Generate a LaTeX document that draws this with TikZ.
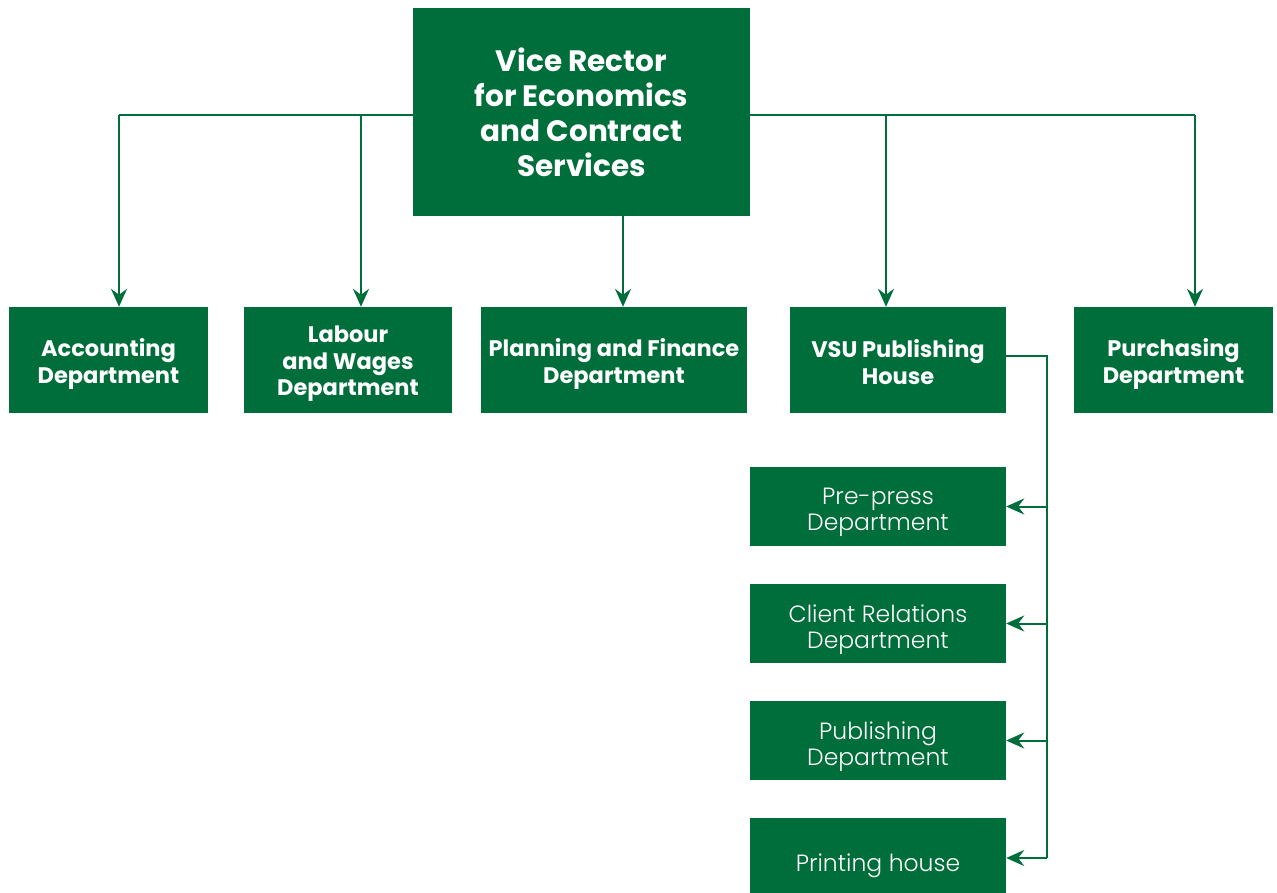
\documentclass[tikz,border=0pt]{standalone}
\usepackage{fontspec}
\setmainfont{Poppins}
\newfontfamily\lightfont{Poppins Light}
\usetikzlibrary{arrows.meta}
\definecolor{vgreen}{RGB}{0,110,58}
\tikzset{
  box/.style={fill=vgreen, draw=none, inner sep=0pt},
  bigtext/.style={text=white, align=center, font=\fontsize{29.5}{35}\selectfont\bfseries},
  midtext/.style={text=white, align=center, font=\fontsize{22.5}{26.5}\selectfont\bfseries},
  lighttext/.style={text=white, align=center, font=\lightfont\fontsize{23.5}{26.5}\selectfont},
  conn/.style={draw=vgreen, line width=2pt, -{Stealth[length=18pt,width=16pt,inset=6pt]}},
  plain/.style={draw=vgreen, line width=2pt}
}
\begin{document}
\begin{tikzpicture}[x=1pt,y=-1pt]
\useasboundingbox (0,0) rectangle (1277,892);
\begin{scope}
\clip (0,0) rectangle (1277,892);
\node[box, bigtext, minimum width=337pt, minimum height=208pt] (top) at (581.5,112) {Vice Rector\\for Economics\\and Contract\\Services};
\node[box, minimum width=199pt, minimum height=106pt, label={[midtext, yshift=-4pt]center:{Accounting\\Department}}] (acc) at (108.5,360) {};
\node[box, minimum width=208pt, minimum height=106pt, label={[midtext, yshift=-4pt]center:{Labour\\and Wages\\Department}}] (lab) at (348,360) {};
\node[box, minimum width=266pt, minimum height=106pt, label={[midtext, yshift=-4pt]center:{Planning and Finance\\Department}}] (pla) at (614,360) {};
\node[box, minimum width=216pt, minimum height=106pt, label={[midtext, yshift=-2pt]center:{VSU Publishing\\House}}] (vsu) at (898,360) {};
\node[box, minimum width=199pt, minimum height=106pt, label={[midtext, yshift=-4pt]center:{Purchasing\\Department}}] (pur) at (1173.5,360) {};
\node[box, minimum width=256pt, minimum height=79pt, label={[lighttext, yshift=-6pt]center:{Pre-press\\Department}}] (pre) at (878,506.5) {};
\node[box, minimum width=256pt, minimum height=79pt, label={[lighttext, yshift=-6pt]center:{Client Relations\\Department}}] (cli) at (878,623.5) {};
\node[box, minimum width=256pt, minimum height=79pt, label={[lighttext, yshift=-6pt]center:{Publishing\\Department}}] (pub) at (878,740.5) {};
\node[box, minimum width=256pt, minimum height=87pt, label={[lighttext, yshift=-4pt]center:{Printing house}}] (pri) at (878,861.5) {};
\end{scope}
\coordinate (hl) at (119,115);
\coordinate (hr) at (1195,115);
\draw[plain] (top.west |- hl) -- (hl);
\draw[plain] (top.east |- hr) -- (hr);
\draw[conn] (hl) -- (acc.north -| hl);
\draw[conn] (361,115) -- (lab.north -| 361,0);
\draw[conn] (623,216) -- (pla.north -| 623,0);
\draw[conn] (886,115) -- (vsu.north -| 886,0);
\draw[conn] (hr) -- (pur.north -| hr);
\coordinate (br) at (1047,356);
\draw[plain] (vsu.east |- br) -- (br) -- (1047,858);
\draw[conn] (1047,506.5) -- (pre.east);
\draw[conn] (1047,623.5) -- (cli.east);
\draw[conn] (1047,740.5) -- (pub.east);
\draw[conn] (1047,858) -- (pri.east |- 0,858);
\end{tikzpicture}
\end{document}
